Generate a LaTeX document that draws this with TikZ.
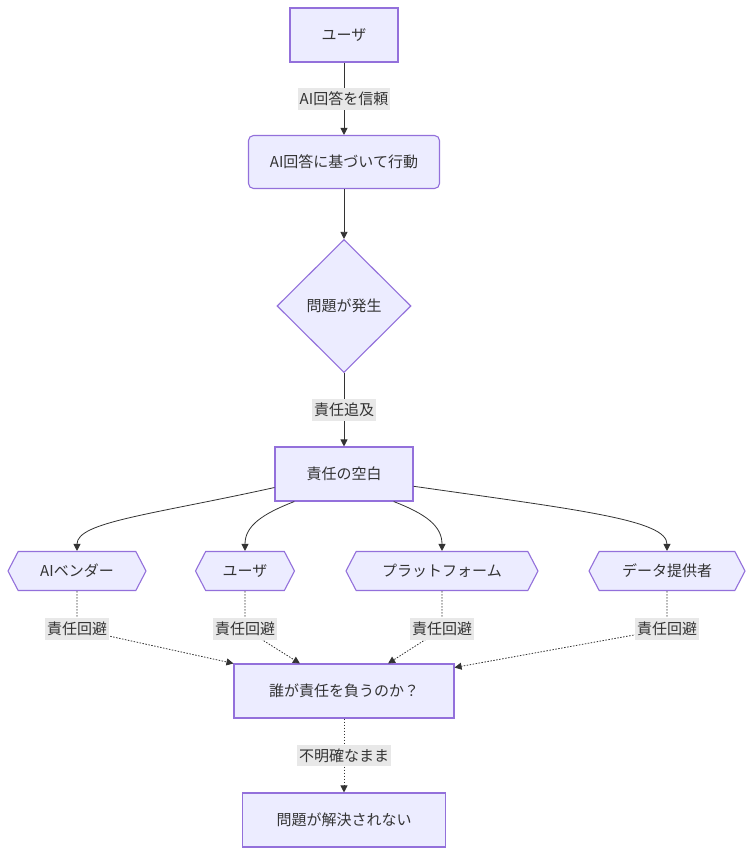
\documentclass[tikz,border=0pt]{standalone}
\usepackage{fontspec}
\setmainfont{Noto Sans CJK JP}
\usepackage{tikz}
\usetikzlibrary{shapes,shapes.geometric,shapes.symbols,arrows.meta,%
positioning,calc%
}
\definecolor{nodefill}{HTML}{ECECFF}
\definecolor{nodeline}{HTML}{9370DB}
\definecolor{edgeline}{HTML}{333333}
\definecolor{labelbg}{HTML}{E8E8E8}

\tikzset{
  box/.style={draw=nodeline,fill=nodefill,line width=1.1pt,text=edgeline,
    font=\fontsize{15}{18}\selectfont,minimum height=54pt,inner sep=0pt},
  roundbox/.style={box,rounded corners=5pt},
  decision/.style={box,diamond,minimum width=134pt,minimum height=133pt},
  hexbox/.style={box,signal,signal to=west and east,signal pointer angle=125,
    minimum height=39pt},
  elabel/.style={fill=labelbg,text=edgeline,inner xsep=2pt,inner ysep=4pt,
    font=\fontsize{15}{18}\selectfont},
  flow/.style={draw=edgeline,line width=0.8pt,-{Triangle[length=7pt,width=7pt]}},
  dodge/.style={flow,dash pattern=on 1.5pt off 1.5pt}
}

\begin{document}
\begin{tikzpicture}[x=1pt,y=-1pt]
      \useasboundingbox (0,0) rectangle (753,855);

      \coordinate (u) at (344,35);
      \coordinate (act) at (344,162);
      \coordinate (p) at (344,306);
      \coordinate (g) at (344,474);
      \coordinate (w) at (344,691);
      \coordinate (r) at (344,820);

      \node[box,minimum width=108pt] (user) at (u) {ユーザ};
      \node[roundbox,minimum width=191pt,minimum height=53pt] (action) at (act) {AI回答に基づいて行動};
      \node[decision] (problem) at (p) {問題が発生};
      \node[box,minimum width=138pt] (gap) at (g) {責任の空白};

      \node[hexbox,minimum width=138pt] (vendor) at (77,571) {AIベンダー};
      \node[hexbox,minimum width=99pt] (user2) at (245,571) {ユーザ};
      \node[hexbox,minimum width=192pt] (platform) at (442,571) {プラットフォーム};
      \node[hexbox,minimum width=156pt] (data) at (667,571) {データ提供者};

      \node[box,minimum width=220pt] (who) at (w) {誰が責任を負うのか？};
      \node[box,minimum width=203pt] (unsolved) at (r) {問題が解決されない};

      \coordinate (l1) at (77,629);
      \coordinate (l2) at (245,629);
      \coordinate (l3) at (442,629);
      \coordinate (l4) at (667,629);

      \draw[flow] (user) -- node[elabel] {AI回答を信頼} (action);
      \draw[flow] (action) -- (problem);
      \draw[flow] (problem) -- node[elabel] {責任追及} (gap);

      \draw[flow] (gap.191) .. controls (150,515) and (77,522) .. (vendor.north);
      \draw[flow] (gap.209) .. controls (262,514) and (245,526) .. (user2.north);
      \draw[flow] (gap.331) .. controls (426,514) and (442,526) .. (platform.north);
      \draw[flow] (gap.350) .. controls (580,510) and (667,520) .. (data.north);

      \draw[dodge] (vendor.south) .. controls (77,615) .. (l1) -- (who.166);
      \draw[dodge] (user2.south) .. controls (245,615) .. (l2) -- (who.148);
      \draw[dodge] (platform.south) .. controls (442,615) .. (l3) -- (who.32);
      \draw[dodge] (data.south) .. controls (667,615) .. (l4) -- (who.12);

      \node[elabel] at (l1) {責任回避};
      \node[elabel] at (l2) {責任回避};
      \node[elabel] at (l3) {責任回避};
      \node[elabel] at (l4) {責任回避};

      \draw[dodge] (who) -- node[elabel] {不明確なまま} (unsolved);
    \end{tikzpicture}
\end{document}
